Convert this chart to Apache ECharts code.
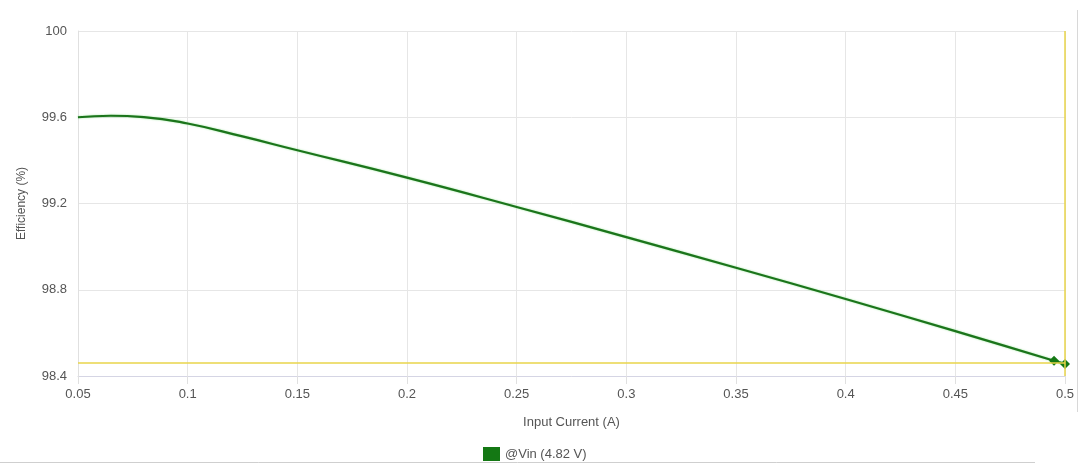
<!DOCTYPE html>
<html>
<head>
<meta charset="utf-8">
<script src="https://cdn.jsdelivr.net/npm/echarts@6/dist/echarts.min.js"></script>
<style>
  html, body { margin: 0; padding: 0; background: #fff; }
  #chart { width: 1089px; height: 470px; }
</style>
</head>
<body>
<div id="chart"></div>
<script>
// Input current (A) and measured efficiency (%) at Vin = 4.82 V
const currentA = [0.05, 0.065, 0.08, 0.1, 0.125, 0.15, 0.2, 0.25, 0.3, 0.35, 0.4, 0.45, 0.495, 0.5];
const efficiency = [99.600, 99.607, 99.601, 99.571, 99.511, 99.447, 99.320, 99.184, 99.044,
                    98.902, 98.757, 98.608, 98.471, 98.456];
const xTicks = [0.05, 0.1, 0.15, 0.2, 0.25, 0.3, 0.35, 0.4, 0.45, 0.5];
const yTicks = [98.4, 98.8, 99.2, 99.6, 100];
const seriesName = '@Vin (4.82 V)';

const lastIdx = currentA.length - 1;
const markedFrom = lastIdx - 1; // the final two samples carry diamond markers

const points = currentA.map((x, i) => {
  const item = { value: [x, efficiency[i]] };
  if (i >= markedFrom) { item.symbol = 'diamond'; item.symbolSize = 10; }
  else { item.symbol = 'none'; }
  return item;
});

const fmt = v => String(Math.round(v * 1000) / 1000);
const textColor = '#555';
const fontFamily = '"Liberation Sans", Arial, sans-serif';

const chart = echarts.init(document.getElementById('chart'), null, { renderer: 'canvas' });
chart.setOption({
  animation: false,
  backgroundColor: '#fff',
  textStyle: { fontFamily: fontFamily },
  grid: { left: 78, right: 24, top: 31, bottom: 94, containLabel: false },
  xAxis: {
    type: 'value',
    min: xTicks[0],
    max: xTicks[xTicks.length - 1],
    interval: 0.05,
    name: 'Input Current (A)',
    nameLocation: 'middle',
    nameGap: 40,
    nameTextStyle: { color: textColor, fontSize: 13, fontFamily: fontFamily },
    axisLine: { show: true, lineStyle: { color: '#d5d5e4', width: 1 } },
    axisTick: { show: true, length: 8, lineStyle: { color: '#e0e0e0' } },
    axisLabel: { color: textColor, fontSize: 13, margin: 12, formatter: fmt },
    splitLine: { show: true, lineStyle: { color: '#e6e6e6', width: 1 } }
  },
  yAxis: {
    type: 'value',
    min: yTicks[0],
    max: yTicks[yTicks.length - 1],
    interval: 0.4,
    name: 'Efficiency (%)',
    nameLocation: 'middle',
    nameGap: 50,
    nameRotate: 90,
    nameTextStyle: { color: textColor, fontSize: 12, fontFamily: fontFamily },
    axisLine: { show: true, lineStyle: { color: '#e0e0e0', width: 1 } },
    axisTick: { show: false },
    axisLabel: { color: textColor, fontSize: 13, margin: 11, formatter: fmt },
    splitLine: { show: true, lineStyle: { color: '#e6e6e6', width: 1 } }
  },
  legend: {
    data: [seriesName],
    left: 478,
    top: 442,
    icon: 'rect',
    itemWidth: 17,
    itemHeight: 14,
    itemGap: 8,
    textStyle: { color: textColor, fontSize: 13, fontFamily: fontFamily }
  },
  series: [{
    name: seriesName,
    type: 'line',
    smooth: 0.5,
    showSymbol: true,
    data: points,
    color: '#0f870f',
    lineStyle: { color: '#1b741b', width: 2.2, shadowColor: 'rgba(40,200,40,0.45)', shadowBlur: 2 },
    itemStyle: { color: '#147814' },
    markLine: {
      silent: true,
      symbol: 'none',
      label: { show: false },
      lineStyle: { color: '#e8d44a', type: 'solid', width: 1.5 },
      data: [
        { xAxis: currentA[lastIdx] },
        { yAxis: efficiency[lastIdx] }
      ]
    },
    z: 3
  }],
  graphic: [
    { type: 'line', shape: { x1: 0, y1: 462.5, x2: 1035, y2: 462.5 }, style: { stroke: '#cfcfcf', lineWidth: 1 }, silent: true },
    { type: 'line', shape: { x1: 1077.5, y1: 10, x2: 1077.5, y2: 412 }, style: { stroke: '#d8d8d8', lineWidth: 1 }, silent: true }
  ]
});
</script>
</body>
</html>
